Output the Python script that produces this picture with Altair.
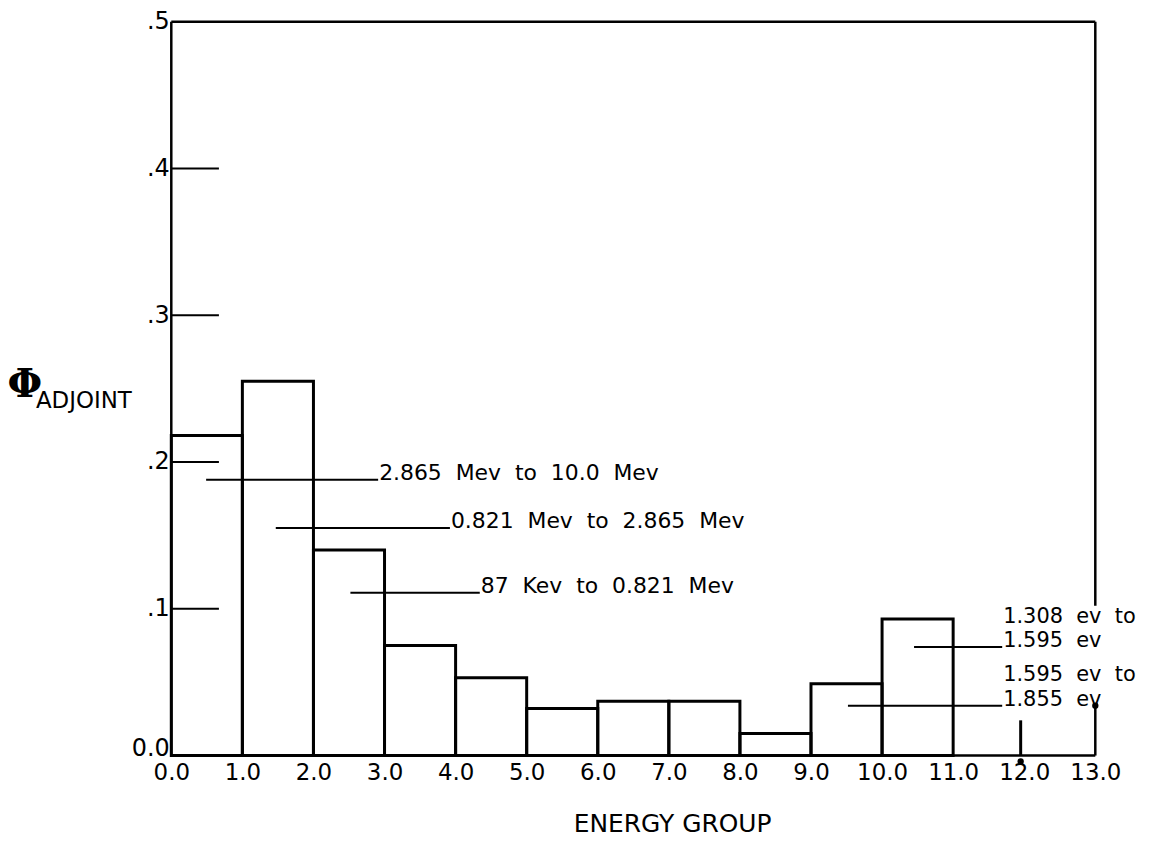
import altair as alt
import pandas as pd

# ---- data ----
group_start = [0, 1, 2, 3, 4, 5, 6, 7, 8, 9, 10, 11, 12]
group_end = [1, 2, 3, 4, 5, 6, 7, 8, 9, 10, 11, 12, 13]
phi_adjoint = [0.218, 0.255, 0.140, 0.075, 0.053, 0.032, 0.037, 0.037, 0.015, 0.049, 0.093, 0.0, 0.0]

x_tick_values = list(range(0, 14))
y_tick_values = [0.0, 0.1, 0.2, 0.3, 0.4, 0.5]
inner_tick_values = [0.1, 0.2, 0.3, 0.4]
inner_tick_length = 0.67

SP = " \u00a0"  # wide word gap as in the original plotter lettering
left_labels = [SP.join(["2.865", "Mev", "to", "10.0", "Mev"]),
               SP.join(["0.821", "Mev", "to", "2.865", "Mev"]),
               SP.join(["87", "Kev", "to", "0.821", "Mev"])]
left_label_y = [0.188, 0.155, 0.111]
left_leader_start = [0.49, 1.47, 2.52]
left_label_x = [2.91, 3.92, 4.34]

right_first_lines = [SP.join(["1.308", "ev", "to"]), SP.join(["1.595", "ev", "to"])]
right_second_lines = [SP.join(["1.595", "ev"]), SP.join(["1.855", "ev"])]
right_leader_y = [0.074, 0.034]
right_first_y = [0.0905, 0.0508]
right_leader_start = [10.45, 9.52]
right_label_x = 11.69

frame_x = [0, 0, 0, 13, 13]
frame_x2 = [0, 13, 13, 13, 13]
frame_y = [0, 0.5, 0, 0.5, 0.034]
frame_y2 = [0.5, 0.5, 0, 0.102, 0]

pen_mark_x = 11.95
pen_mark_top = 0.024

FONT = "DejaVu Sans"

# ---- tables ----
bars = pd.DataFrame({"start": group_start, "end": group_end, "phi": phi_adjoint})
bars = bars[bars["phi"] > 0]

frame = pd.DataFrame({"x": frame_x, "x2": frame_x2, "y": frame_y, "y2": frame_y2})
ticks = pd.DataFrame({"x": [0] * len(inner_tick_values),
                      "x2": [inner_tick_length] * len(inner_tick_values),
                      "y": inner_tick_values})

left_ann = pd.DataFrame({"label": left_labels, "y": left_label_y,
                         "x0": left_leader_start, "x": left_label_x})
right_ann1 = pd.DataFrame({"label": right_first_lines, "y": right_first_y,
                           "x": [right_label_x] * 2})
right_ann2 = pd.DataFrame({"label": right_second_lines, "y": right_leader_y,
                           "x0": right_leader_start, "x": [right_label_x] * 2})
pen = pd.DataFrame({"x": [pen_mark_x], "y": [0.0], "y2": [pen_mark_top]})
dots = pd.DataFrame({"x": [13, pen_mark_x], "y": [0.034, -0.004]})

xs = alt.Scale(domain=[0, 13], nice=False, zero=False)
ys = alt.Scale(domain=[0, 0.5], nice=False, zero=False)

x_axis = alt.Axis(values=x_tick_values, format=".1f", ticks=False, domain=False, grid=False,
                  labelFont=FONT, labelFontSize=23, labelColor="black", labelPadding=6,
                  labelFlush=False, labelOverlap=False,
                  title="ENERGY GROUP", titleFont=FONT, titleFontSize=25, titleFontWeight="normal",
                  titleColor="black", titleX=503, titleY=68, titleAlign="center",
                  titleBaseline="middle")
y_axis = alt.Axis(values=y_tick_values, ticks=False, domain=False, grid=False,
                  labelExpr="datum.value == 0 ? '0.0' : replace(format(datum.value, '.1f'), '0.', '.')",
                  labelBaseline={"condition": {"test": "datum.value == 0", "value": "alphabetic"},
                                 "value": "middle"},
                  labelFont=FONT, labelFontSize=24, labelColor="black", labelPadding=2,
                  labelFlush=False, labelOverlap=False, title="")


def X(field):
    return alt.X(field, scale=xs, axis=x_axis, title="ENERGY GROUP")


def Y(field):
    return alt.Y(field, scale=ys, axis=y_axis, title="")


bar_layer = alt.Chart(bars).mark_rect(fillOpacity=0, stroke="black", strokeWidth=3).encode(
    x=X("start:Q"), x2="end:Q", y=Y("phi:Q"), y2=alt.datum(0))

frame_layer = alt.Chart(frame).mark_rule(color="black", strokeWidth=2.5).encode(
    x=X("x:Q"), x2="x2:Q", y=Y("y:Q"), y2="y2:Q")

tick_layer = alt.Chart(ticks).mark_rule(color="black", strokeWidth=2).encode(
    x=X("x:Q"), x2="x2:Q", y=Y("y:Q"))

left_lines = alt.Chart(left_ann).mark_rule(color="black", strokeWidth=2).encode(
    x=X("x0:Q"), x2="x:Q", y=Y("y:Q"))
left_text = alt.Chart(left_ann).mark_text(align="left", baseline="alphabetic", font=FONT,
                                          fontSize=22, color="black", dx=1).encode(
    x=X("x:Q"), y=Y("y:Q"), text="label:N")

right_lines = alt.Chart(right_ann2).mark_rule(color="black", strokeWidth=2).encode(
    x=X("x0:Q"), x2="x:Q", y=Y("y:Q"))
right_text2 = alt.Chart(right_ann2).mark_text(align="left", baseline="alphabetic", font=FONT,
                                              fontSize=21, color="black", dx=1).encode(
    x=X("x:Q"), y=Y("y:Q"), text="label:N")
right_text1 = alt.Chart(right_ann1).mark_text(align="left", baseline="alphabetic", font=FONT,
                                              fontSize=21, color="black", dx=1).encode(
    x=X("x:Q"), y=Y("y:Q"), text="label:N")

pen_layer = alt.Chart(pen).mark_rule(color="black", strokeWidth=3).encode(
    x=X("x:Q"), y=Y("y:Q"), y2="y2:Q")
dot_layer = alt.Chart(dots).mark_point(filled=True, color="black", size=40, opacity=1).encode(
    x=X("x:Q"), y=Y("y:Q"))

phi_symbol = alt.Chart(pd.DataFrame({"t": ["Φ"]})).mark_text(
    font="DejaVu Serif", fontSize=40, fontWeight="bold", color="black",
    align="center", baseline="middle").encode(
    x=alt.value(-147), y=alt.value(365), text="t:N")
adjoint = alt.Chart(pd.DataFrame({"t": ["ADJOINT"]})).mark_text(
    font=FONT, fontSize=23, color="black", align="left", baseline="middle").encode(
    x=alt.value(-136), y=alt.value(381), text="t:N")

chart = alt.layer(
    bar_layer, frame_layer, tick_layer, left_lines, left_text,
    right_lines, right_text1, right_text2, pen_layer, dot_layer, phi_symbol, adjoint
).properties(
    width=928, height=737,
    padding={"left": 164, "top": 12, "right": 70, "bottom": 80},
    autosize=alt.AutoSizeParams(type="none"),
    background="white",
).configure_view(strokeWidth=0)

chart.save("out.html", embed_options={"renderer": "svg", "actions": False})
